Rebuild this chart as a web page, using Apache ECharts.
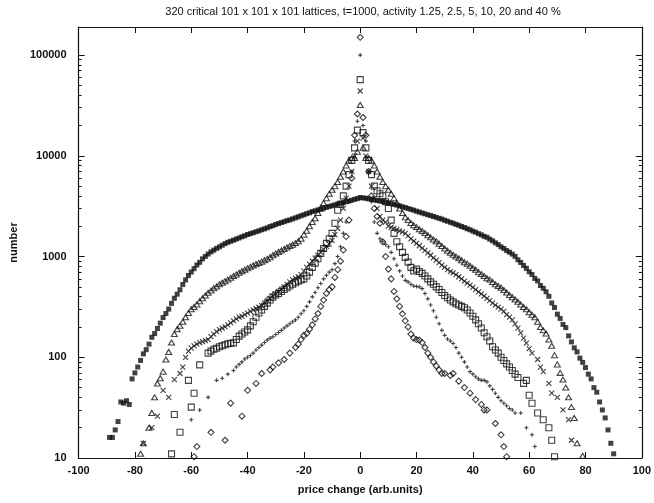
<!DOCTYPE html>
<html><head><meta charset="utf-8">
<script src="https://cdn.jsdelivr.net/npm/echarts@6/dist/echarts.min.js"></script>
<style>html,body{margin:0;padding:0;background:#fff}#c{width:654px;height:503px}</style>
</head><body><div id="c"></div>
<script>
const titleText = '320 critical 101 x 101 x 101 lattices, t=1000, activity 1.25, 2.5, 5, 10, 20 and 40 %';
const xLabel = 'price change (arb.units)';
const yLabel = 'number';
const yTickValues = [10, 100, 1000, 10000, 100000];
const yMinorTickValues = [20,30,40,50,60,70,80,90,200,300,400,500,600,700,800,900,2000,3000,4000,5000,6000,7000,8000,9000,20000,30000,40000,50000,60000,70000,80000,90000];

// price change values: -90 .. 90, one row of 10 per line
const xStart = -90;

// activity 40 % (filled squares)
const y40 = [
 null,16,16,19,23,36,35,37,34,61,            // -90
 70,80,93,108,119,135,158,172,193,218,       // -80
 248,272,301,343,385,423,468,528,586,648,    // -70
 702,758,824,876,948,1002,1058,1113,1158,1204, // -60
 1247,1296,1342,1385,1418,1452,1493,1528,1572,1608, // -50
 1654,1688,1724,1763,1798,1845,1882,1926,1984,2027, // -40
 2083,2128,2174,2218,2272,2309,2368,2421,2478,2541, // -30
 2597,2664,2718,2793,2846,2904,2958,3024,3077,3145, // -20
 3196,3262,3318,3384,3427,3503,3558,3624,3697,3762, // -10
 3852,3820,3790,3735,3694,3648,3602,3556,3514,3458, // 0
 3412,3348,3295,3236,3184,3118,3064,2996,2942,2884, // 10
 2818,2764,2706,2655,2598,2553,2497,2452,2396,2353, // 20
 2288,2243,2186,2142,2088,2043,1988,1942,1886,1843, // 30
 1787,1744,1688,1642,1586,1553,1487,1432,1368,1314, // 40
 1248,1203,1146,1104,1057,1004,928,874,816,764,     // 50
 706,664,606,573,516,484,447,403,346,312,           // 60
 268,243,212,197,163,142,124,113,98,89,             // 70
 79,68,61,50,45,36,30,25,19,14,                     // 80
 11];                                               // 90

// activity 20 % (open triangles)
const y20 = [
 null,null,null,null,null,null,null,null,null,null, // -90
 null,null,11,14,null,20,28,40,55,62,               // -80
 72,95,113,140,170,190,205,225,250,275,             // -70
 300,316,335,360,385,410,436,460,485,505,           // -60
 530,550,570,590,615,640,665,690,715,740,           // -50
 765,790,815,840,865,890,920,950,985,1030,          // -40
 1070,1110,1150,1190,1230,1270,1310,1360,1420,1500, // -30
 1650,1800,2000,2200,2400,2700,3000,3400,3800,4200, // -20
 4600,5000,5500,6200,7000,8000,9000,9500,9500,11000, // -10
 32000,12000,9500,9500,9000,8000,7000,6200,5500,5000, // 0
 4600,4200,3800,3400,3000,2700,2450,2300,2150,2050, // 10
 1960,1870,1790,1710,1630,1550,1480,1420,1340,1270, // 20
 1200,1140,1090,1040,1000,960,920,880,850,810,      // 30
 770,740,700,670,640,610,590,560,530,510,           // 40
 490,465,440,415,395,375,355,335,316,300,           // 50
 280,265,250,225,200,185,172,150,130,105,           // 60
 85,70,60,50,40,32,25,14,null,10.5,                 // 70
 null,null,null,null,null,null,null,null,null,null, // 80
 null];

// activity 10 % (crosses)
const y10 = [
 null,null,null,null,null,null,null,null,null,null, // -90
 null,null,null,14,null,null,20,null,26,null,       // -80
 47,null,40,null,60,null,69,80,100,115,             // -70
 123,130,135,140,143,146,150,160,170,180,           // -60
 188,195,200,210,220,230,240,250,255,265,           // -50
 275,285,295,305,315,325,345,365,385,405,           // -40
 425,450,475,500,530,560,590,610,630,660,           // -30
 720,780,840,900,966,1030,1100,1180,1260,1330,      // -20
 1450,1650,1900,2300,3000,3800,5000,7000,10000,14000, // -10
 44000,15000,10000,7000,5000,3800,3000,2500,2300,2200, // 0
 2000,1950,1900,1850,1800,1760,1700,1600,1500,1420, // 10
 1350,1280,1210,1150,1090,1030,970,920,870,820,     // 20
 780,740,710,690,660,630,600,570,545,520,           // 30
 495,470,445,425,405,385,365,345,330,315,           // 40
 300,285,265,250,235,215,195,175,155,138,           // 50
 122,110,null,95,80,72,null,55,44,null,             // 60
 40,null,30,null,24,15,null,null,null,null,         // 70
 null,null,null,null,null,null,null,null,null,null, // 80
 null];

// activity 5 % (open squares)
const y5 = [
 null,null,null,null,null,null,null,null,null,null, // -90
 null,null,null,null,null,null,null,null,null,null, // -80
 null,null,null,11,27,null,18,null,null,59,         // -70
 32,44,null,84,null,null,110,115,120,123,           // -60
 127,130,133,136,138,139,150,162,170,178,           // -50
 187,205,225,250,275,295,320,345,370,395,           // -40
 415,430,450,470,490,510,530,550,570,585,           // -30
 600,640,700,780,860,950,1075,1200,1350,1500,       // -20
 1700,2140,2880,3300,4000,5000,6500,9000,12000,18000, // -10
 57000,17000,12000,9000,6500,5000,4500,4200,4000,3500, // 0
 3000,2300,1700,1400,1250,1100,980,880,780,720,     // 10
 750,710,680,640,600,560,530,500,470,440,           // 20
 410,390,370,355,340,330,320,310,295,275,           // 30
 255,235,215,195,175,160,145,127,118,110,           // 40
 100,93,86,80,74,68,63,null,55,59,                  // 50
 42,35,null,28,null,24,null,20,15,10.3,             // 60
 null,null,null,null,null,null,null,null,null,null, // 70
 null,null,null,null,null,null,null,null,null,null, // 80
 null];

// activity 2.5 % (plus signs)
const y25 = [
 null,null,null,null,null,null,null,null,null,null, // -90
 null,null,null,null,null,null,null,null,null,null, // -80
 null,null,null,null,null,null,null,null,null,null, // -70
 24,null,null,30,null,null,40,null,null,59,         // -60
 null,62,null,68,null,74,80,85,90,96,               // -50
 100,104,110,118,125,132,140,148,155,160,           // -40
 168,176,185,195,205,215,225,235,250,270,           // -30
 290,320,355,398,440,490,540,600,650,700,           // -20
 740,850,1000,1250,1700,2200,3500,7000,14000,22000, // -10
 100000,20000,14000,7000,3500,2200,1700,1500,1400,1320, // 0
 1250,1100,950,820,720,640,580,560,530,510,         // 10
 505,500,480,430,380,330,290,250,215,185,           // 20
 165,152,145,137,125,110,100,90,80,72,              // 30
 68,64,61,59,59,57,52,48,44,40,                     // 40
 37,35,33,31,30,28,null,28,null,20,                 // 50
 null,17,13,null,null,null,null,null,null,null,     // 60
 null,null,null,null,null,null,null,null,null,null, // 70
 null,null,null,null,null,null,null,null,null,null, // 80
 null];

// activity 1.25 % (open diamonds)
const y125 = [
 null,null,null,null,null,null,null,null,null,null, // -90
 null,null,null,null,null,null,null,null,null,null, // -80
 null,null,null,null,null,null,null,null,null,null, // -70
 null,10.3,13,null,null,null,null,18,null,null,     // -60
 null,null,15,null,35,null,null,null,26,null,       // -50
 47,null,null,55,null,69,null,null,75,80,           // -40
 null,88,null,95,null,110,null,125,135,150,         // -30
 165,172,190,210,240,272,320,370,430,470,           // -20
 500,620,740,900,1160,1580,2300,6000,16000,26000,   // -10
 150000,24000,16000,7000,4000,3000,2500,2140,1400,1000, // 0
 750,600,450,380,320,270,230,200,170,155,           // 10
 150,148,140,125,110,100,90,82,75,69,               // 20
 69,null,66,69,null,58,null,50,null,44,             // 30
 null,38,null,34,30,30,null,null,22,null,           // 40
 17,13,10.3,null,null,null,null,null,null,null,     // 50
 null,null,null,null,null,null,null,null,null,null, // 60
 null,null,null,null,null,null,null,null,null,null, // 70
 null,null,null,null,null,null,null,null,null,null, // 80
 null];

function pts(ys){
  const out=[];
  ys.forEach((v,i)=>{ if(v!==null) out.push([xStart+i, v]); });
  return out;
}
const K = '#111';
const symTri = 'path://M5,0L10,9L0,9Z';
const symX = 'path://M0,0L10,10M10,0L0,10';
const symPlus = 'path://M5,0L5,10M0,5L10,5';
const symSq = 'path://M0,0L10,0L10,10L0,10Z';
const symDia = 'path://M5,0L10,5L5,10L0,5Z';

function openSeries(name, data, symbol, size){
  return {name, type:'scatter', data, symbol, symbolSize:size,
    itemStyle:{color:'none', borderColor:K, borderWidth:1.1}, emphasis:{disabled:true}};
}

const chart = echarts.init(document.getElementById('c'), null, {renderer:'canvas'});
const FF = 'Liberation Sans, Arial, sans-serif';
const axisFont = {fontFamily:FF, fontWeight:'bold', fontSize:11, color:'#111'};
const lineSt = {color:'#111', width:1.2};
chart.setOption({
  backgroundColor:'#fff',
  animation:false,
  title:{text:titleText, left:358, textAlign:'center', top:1,
    textStyle:{fontFamily:FF, fontSize:11, fontWeight:'normal', color:'#111'}},
  grid:{left:71, right:7, top:27, bottom:45},
  xAxis:[{type:'value', min:-100, max:100, interval:20, position:'bottom',
     name:xLabel, nameLocation:'middle', nameGap:26, nameTextStyle:axisFont,
     axisLine:{show:true, onZero:false, lineStyle:lineSt},
     axisTick:{show:true, inside:true, length:6, lineStyle:{color:'#111'}},
     axisLabel:{...axisFont, margin:7, formatter:v=>String(v)},
     splitLine:{show:false}},
    {type:'value', min:-100, max:100, interval:20, position:'top',
     axisLine:{show:true, onZero:false, lineStyle:lineSt},
     axisTick:{show:true, inside:true, length:6, lineStyle:{color:'#111'}},
     axisLabel:{show:false}, splitLine:{show:false}}],
  yAxis:[{type:'log', logBase:10, min:10, max:190000, position:'left',
     name:yLabel, nameLocation:'middle', nameGap:55, nameRotate:90, nameTextStyle:axisFont,
     axisLine:{show:true, onZero:false, lineStyle:lineSt},
     axisTick:{show:true, inside:true, length:6, customValues:yTickValues, lineStyle:{color:'#111'}},
     axisLabel:{...axisFont, margin:12, customValues:yTickValues, formatter:v=>String(Math.round(v))},
     splitLine:{show:false}},
    {type:'log', logBase:10, min:10, max:190000, position:'left',
     axisLine:{show:false, onZero:false},
     axisTick:{show:true, inside:true, length:3, customValues:yMinorTickValues, lineStyle:{color:'#111'}},
     axisLabel:{show:false}, splitLine:{show:false}},
    {type:'log', logBase:10, min:10, max:190000, position:'right',
     axisLine:{show:true, onZero:false, lineStyle:lineSt},
     axisTick:{show:true, inside:true, length:6, customValues:yTickValues, lineStyle:{color:'#111'}},
     axisLabel:{show:false}, splitLine:{show:false}},
    {type:'log', logBase:10, min:10, max:190000, position:'right',
     axisLine:{show:false, onZero:false},
     axisTick:{show:true, inside:true, length:3, customValues:yMinorTickValues, lineStyle:{color:'#111'}},
     axisLabel:{show:false}, splitLine:{show:false}}],
  series:[
    {name:'40 %', type:'scatter', data:pts(y40), symbol:'rect', symbolSize:5,
     itemStyle:{color:K}, emphasis:{disabled:true}},
    openSeries('20 %', pts(y20), symTri, [6,5]),
    openSeries('10 %', pts(y10), symX, 5),
    openSeries('5 %', pts(y5), symSq, 6),
    openSeries('2.5 %', pts(y25), symPlus, 4),
    openSeries('1.25 %', pts(y125), symDia, 6)
  ]
});
</script></body></html>
